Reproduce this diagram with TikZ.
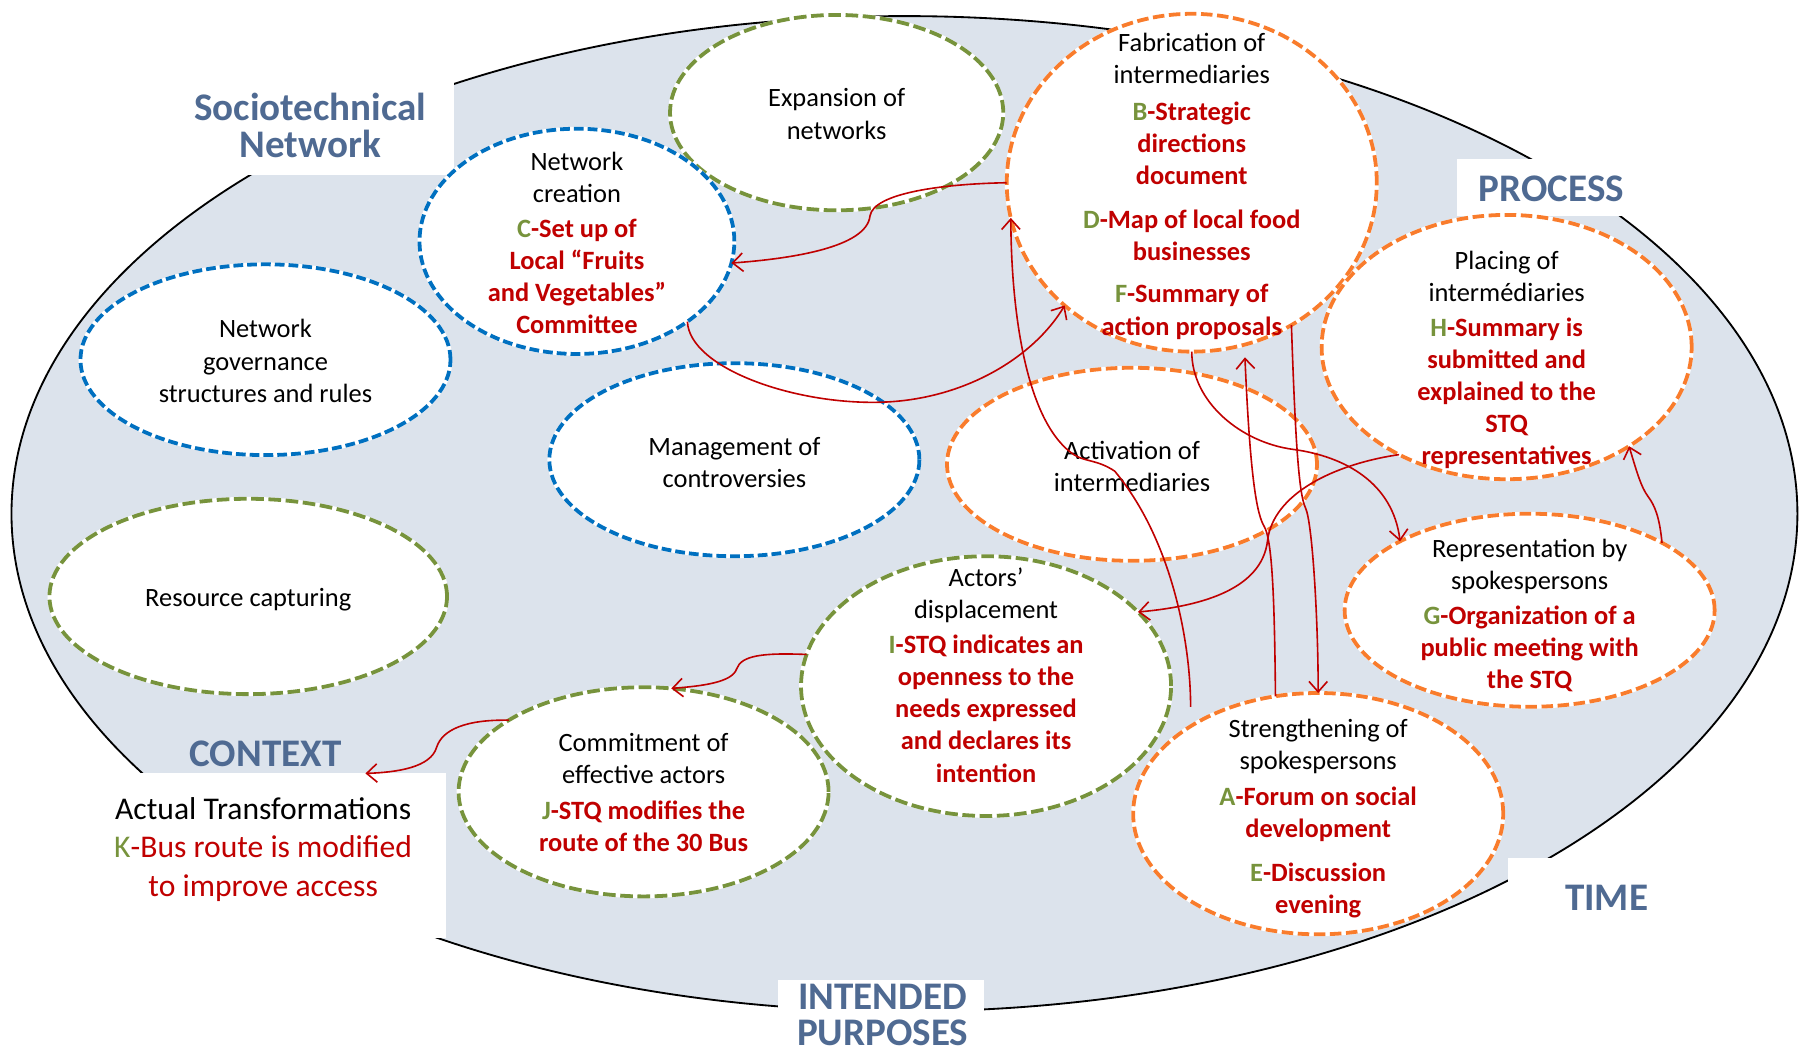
\documentclass[tikz,border=0pt]{standalone}
\usepackage{fontspec}
\setmainfont{Carlito}
\usetikzlibrary{arrows.meta,shapes.geometric}
\definecolor{bgblue}{HTML}{DCE3EC}
\definecolor{ttlblue}{HTML}{4F6A92}
\definecolor{ogreen}{HTML}{77933C}
\definecolor{oblue}{HTML}{0070C0}
\definecolor{oorange}{HTML}{F97C2C}
\definecolor{dred}{HTML}{C00000}
\newcommand\grn[1]{\textcolor{ogreen}{\bfseries #1}}
\newcommand\rdb[1]{\textcolor{dred}{\bfseries #1}}
\begin{document}
\begin{tikzpicture}[x=1pt,y=-1pt,
  ellfill/.style={ellipse, fill=white, inner sep=0pt, outer sep=0pt},
  ellline/.style={ellipse, inner sep=0pt, outer sep=0pt, line width=3.3pt,
    preaction={draw=white, solid, line width=3.3pt}},
  gline/.style={ellline, draw=ogreen, dash pattern=on 11pt off 4pt},
  bline/.style={ellline, draw=oblue, dash pattern=on 8.5pt off 3.5pt},
  oline/.style={ellline, draw=oorange, dash pattern=on 10pt off 4pt},
  sz exp/.style={minimum width=290pt, minimum height=170pt},
  sz fab/.style={minimum width=322pt, minimum height=294pt},
  sz nc/.style={minimum width=274pt, minimum height=196pt},
  sz gov/.style={minimum width=322pt, minimum height=166pt},
  sz mgt/.style={minimum width=322pt, minimum height=168pt},
  sz act/.style={minimum width=322pt, minimum height=168pt},
  sz pl/.style={minimum width=322pt, minimum height=230pt},
  sz rep/.style={minimum width=322pt, minimum height=168pt},
  sz res/.style={minimum width=346pt, minimum height=170pt},
  sz dis/.style={minimum width=322pt, minimum height=226pt},
  sz com/.style={minimum width=322pt, minimum height=182pt},
  sz st/.style={minimum width=322pt, minimum height=210pt},
  txt/.style={align=center, anchor=base, font=\fontsize{23}{28}\selectfont},
  ttl/.style={align=center, anchor=base, text=ttlblue, font=\fontsize{34}{32}\selectfont\bfseries},
  cut/.style={fill=white, draw=none, inner sep=0pt, outer sep=0pt},
  arr/.style={draw=dred, line width=1.4pt, -{Straight Barb[length=9pt,width=16pt]}}
]
\useasboundingbox (0,0) rectangle (1568,918);
\fill[white] (0,0) rectangle (1568,918);

% big ellipse
\node[ellipse, fill=bgblue, draw=black, line width=1.6pt, inner sep=0pt,
      minimum width=1554pt, minimum height=866pt] (big) at (787,447) {};

% white cut-outs for titles
\node[cut, minimum width=245pt, minimum height=152pt] (cutsoc) at (272.5,76) {};
\node[cut, minimum width=180pt, minimum height=50pt] (cutproc) at (1358,163) {};
\node[cut, minimum width=268pt, minimum height=143pt] (ctxbox) at (254,744.5) {};
\node[cut, minimum width=179pt, minimum height=65pt] (cutint) at (766.5,885.5) {};
\node[cut, minimum width=200pt, minimum height=80pt] (cuttime) at (1412,787) {};

% inner ellipses: fills
\node[ellfill, sz exp] (exp) at (728,98) {};
\node[ellfill, sz fab] (fab) at (1037,159) {};
\node[ellfill, sz nc] (nc) at (502,210) {};
\node[ellfill, sz gov] (gov) at (231,313) {};
\node[ellfill, sz mgt] (mgt) at (639,400) {};
\node[ellfill, sz act] (act) at (985,404) {};
\node[ellfill, sz pl] (pl) at (1311,302) {};
\node[ellfill, sz rep] (rep) at (1331,531) {};
\node[ellfill, sz res] (res) at (216,519) {};
\node[ellfill, sz dis] (dis) at (858,597) {};
\node[ellfill, sz com] (com) at (560,689) {};
\node[ellfill, sz st] (st) at (1147,708) {};

% inner ellipses: dashed borders
\node[gline, sz exp] (exp-b) at (exp) {};
\node[oline, sz fab] (fab-b) at (fab) {};
\node[bline, sz nc] (nc-b) at (nc) {};
\node[bline, sz gov] (gov-b) at (gov) {};
\node[bline, sz mgt] (mgt-b) at (mgt) {};
\node[oline, sz act] (act-b) at (act) {};
\node[oline, sz pl] (pl-b) at (pl) {};
\node[oline, sz rep] (rep-b) at (rep) {};
\node[gline, sz res] (res-b) at (res) {};
\node[gline, sz dis] (dis-b) at (dis) {};
\node[gline, sz com] (com-b) at (com) {};
\node[oline, sz st] (st-b) at (st) {};

% titles (anchor base = baseline of last line)
\node[ttl] (tsoc) at (270,137) {Sociotechnical\\Network};
\node[ttl] (tproc) at (1350,175) {PROCESS};
\node[ttl] (tctx) at (231,667) {CONTEXT};
\node[ttl] (tint) at (768,910) {INTENDED\\PURPOSES};
\node[ttl] (ttime) at (1398,792) {TIME};
\node[align=center, anchor=base, font=\fontsize{27.5}{33.5}\selectfont] (tactual) at (229,780)
  {Actual Transformations\\ \textcolor{ogreen}{K}\textcolor{dred}{-Bus route is modified}\\ \textcolor{dred}{to improve access}};

% ellipse texts
\node[txt] (t-exp) at (728,121) {Expansion of\\networks};
\node[txt] (t-fab) at (1037,291.5) {Fabrication of\\intermediaries\\[4pt]
  \grn{B}\rdb{-Strategic}\\ \rdb{directions}\\ \rdb{document}\\[10pt]
  \grn{D}\rdb{-Map of local food}\\ \rdb{businesses}\\[9pt]
  \grn{F}\rdb{-Summary of}\\ \rdb{action proposals}};
\node[txt] (t-nc) at (502,290.5) {Network\\creation\\[2pt]
  \grn{C}\rdb{-Set up of}\\ \rdb{Local “Fruits}\\ \rdb{and Vegetables”}\\ \rdb{Committee}};
\node[txt] (t-gov) at (231,350) {Network\\governance\\structures and rules};
\node[txt] (t-mgt) at (639,424) {Management of\\controversies};
\node[txt] (t-act) at (985,428) {Activation of\\intermediaries};
\node[txt] (t-pl) at (1311,404.5) {Placing of\\intermédiaries\\[2pt]
  \grn{H}\rdb{-Summary is}\\ \rdb{submitted and}\\ \rdb{explained to the}\\ \rdb{STQ}\\ \rdb{representatives}};
\node[txt] (t-rep) at (1331,599) {Representation by\\spokespersons\\[2pt]
  \grn{G}\rdb{-Organization of a}\\ \rdb{public meeting with}\\ \rdb{the STQ}};
\node[txt] (t-res) at (216,528) {Resource capturing};
\node[txt] (t-dis) at (858,680.5) {Actors’\\displacement\\[2pt]
  \grn{I}\rdb{-STQ indicates an}\\ \rdb{openness to the}\\ \rdb{needs expressed}\\ \rdb{and declares its}\\ \rdb{intention}};
\node[txt] (t-com) at (560,741) {Commitment of\\effective actors\\[3pt]
  \grn{J}\rdb{-STQ modifies the}\\ \rdb{route of the 30 Bus}};
\node[txt] (t-st) at (1147,795) {Strengthening of\\spokespersons\\[3pt]
  \grn{A}\rdb{-Forum on social}\\ \rdb{development}\\[10pt]
  \grn{E}\rdb{-Discussion}\\ \rdb{evening}};

% connectors
\coordinate (cst) at (1036,615);
\draw[arr] (fab.180) .. controls (820,160) and (760,168) .. (757,188)
  .. controls (754,215) and (690,225) .. (nc.-8);
\draw[arr] (nc.-36) .. controls (600,320) and (690,352) .. (766,350)
  .. controls (840,348) and (900,310) .. (fab.224);
\draw[arr] (cst) .. controls (1036,560) and (1020,470) .. (970,410)
  .. controls (955,400) and (945,402) .. (935,396)
  .. controls (895,370) and (880,280) .. (fab.191);
\draw[arr, shorten >=11pt] (st.110) .. controls (1109,520) and (1107,470) .. (1100,458)
  .. controls (1094,448) and (1088,420) .. (fab.-72);
\draw[arr] (fab.-55) .. controls (1127,380) and (1130,430) .. (1136,442)
  .. controls (1142,455) and (1147,540) .. (st.90);
\draw[arr] (fab.-90) .. controls (1037,350) and (1080,385) .. (1125,391)
  .. controls (1170,397) and (1212,420) .. (rep.152);
\draw[arr] (pl.225) .. controls (1160,404) and (1108,430) .. (1103,470)
  .. controls (1098,515) and (1040,528) .. (dis.26);
\draw[arr] (rep.27) .. controls (1444,450) and (1440,440) .. (1434,432)
  .. controls (1428,424) and (1424,410) .. (pl.-39);
\draw[arr] (dis.170) .. controls (665,568) and (645,570) .. (641,582)
  .. controls (637,594) and (610,597) .. (com.75);
\draw[arr] (com.152) .. controls (405,626) and (385,635) .. (380,650)
  .. controls (375,668) and (345,672) .. ([xshift=64pt]ctxbox.north);
\end{tikzpicture}
\end{document}
